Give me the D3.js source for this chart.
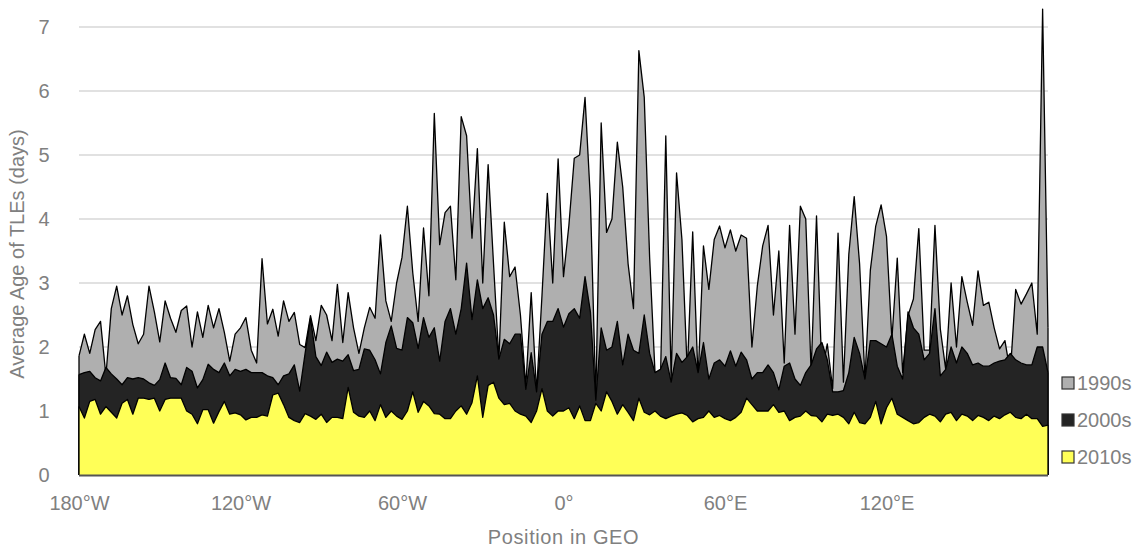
<!DOCTYPE html>
<html>
<head>
<meta charset="utf-8">
<script src="https://cdn.jsdelivr.net/npm/d3@7"></script>
<style>
  body { margin: 0; background: #fff; }
  svg { display: block; font-family: "Liberation Sans", Arial, sans-serif; }
</style>
</head>
<body>
<svg></svg>
<script>
// Chart size
const width = 1133
const height = 548
const margin = {left: 79, right: 85, top: 27, bottom: 73}

// Longitude of every sample, 2 degree steps
const lons = d3.range(-180, 181, 2)

// Average age of TLEs (days) per decade
const age1990s = [
  1.86, 2.2, 1.9, 2.27, 2.4, 1.55, 2.6, 2.95, 2.5, 2.8, 2.35, 2.05, 2.2, 2.95, 2.55, 2.08, 2.72, 2.45, 2.23, 2.57,
  2.64, 2.0, 2.55, 2.15, 2.65, 2.3, 2.6, 2.23, 1.78, 2.2, 2.3, 2.46, 1.95, 1.75, 3.38, 2.36, 2.59, 2.17, 2.72, 2.4,
  2.54, 2.04, 1.99, 2.49, 2.1, 2.65, 2.5, 2.1, 2.98, 2.07, 2.85, 2.3, 1.9, 2.3, 2.62, 2.45, 3.75, 2.72, 2.4, 3.0,
  3.4, 4.2, 3.16, 2.4, 3.86, 2.8, 5.65, 3.6, 4.1, 4.2, 3.05, 5.6, 5.3, 3.7, 5.1, 3.0, 4.85, 3.3, 1.8, 3.95,
  3.1, 3.25, 2.5, 1.39, 2.85, 1.3, 2.8, 4.4, 3.0, 4.94, 3.1, 3.9, 4.95, 5.0, 5.9, 4.3, 1.2, 5.5, 3.79, 4.0,
  5.2, 4.5, 3.3, 2.6, 6.63, 5.9, 3.4, 1.6, 1.45, 5.3, 1.5, 4.72, 3.68, 1.6, 3.8, 1.5, 3.58, 2.9, 3.68, 3.89,
  3.55, 3.83, 3.5, 3.75, 3.7, 2.0, 2.95, 3.58, 3.9, 2.5, 3.5, 1.75, 3.9, 2.2, 4.2, 4.0, 1.6, 4.05, 1.6, 2.05,
  1.35, 3.78, 1.45, 3.45, 4.35, 3.3, 1.5, 3.2, 3.89, 4.22, 3.73, 2.12, 3.39, 1.6, 2.49, 2.75, 3.85, 1.95, 1.95, 3.9,
  2.28, 1.65, 3.0, 2.0, 3.1, 2.7, 2.34, 3.19, 2.65, 2.7, 2.3, 1.97, 2.1, 1.6, 2.9, 2.67, 2.83, 3.0, 2.2, 7.28,
  2.3
]
const age2000s = [
  1.57, 1.6, 1.62, 1.52, 1.47, 1.68, 1.58, 1.5, 1.41, 1.52, 1.5, 1.52, 1.5, 1.44, 1.4, 1.49, 1.75, 1.52, 1.51, 1.41,
  1.68, 1.62, 1.36, 1.49, 1.73, 1.65, 1.6, 1.75, 1.55, 1.65, 1.62, 1.65, 1.6, 1.6, 1.6, 1.55, 1.52, 1.41, 1.55, 1.58,
  1.72, 1.31, 1.9, 2.45, 1.85, 1.71, 1.92, 1.76, 1.81, 1.78, 1.88, 1.63, 1.65, 1.97, 1.95, 1.8, 1.58, 2.07, 2.33, 1.98,
  1.95, 2.46, 2.38, 1.98, 2.46, 2.15, 2.3, 1.78, 2.4, 2.6, 2.2, 2.6, 3.31, 2.43, 3.05, 2.6, 2.77, 2.5, 1.81, 2.12,
  2.05, 2.2, 2.2, 1.34, 1.91, 1.3, 2.2, 2.4, 2.4, 2.6, 2.31, 2.52, 2.6, 2.45, 3.1, 2.55, 1.17, 2.3, 1.95, 2.0,
  2.4, 1.72, 2.2, 1.95, 1.9, 2.5, 1.9, 1.6, 1.65, 1.85, 1.45, 1.9, 1.76, 1.85, 2.0, 1.6, 2.07, 1.5, 1.75, 1.8,
  1.7, 1.94, 1.7, 1.92, 1.8, 1.5, 1.6, 1.6, 1.72, 1.6, 1.33, 1.7, 1.75, 1.5, 1.4, 1.6, 1.72, 1.97, 2.07, 1.8,
  1.3, 1.3, 1.32, 1.6, 2.15, 1.9, 1.5, 2.1, 2.1, 2.05, 2.0, 2.2, 1.7, 1.5, 2.55, 2.3, 2.2, 1.8, 1.9, 2.6,
  1.55, 1.65, 2.0, 1.75, 2.0, 1.9, 1.72, 1.75, 1.7, 1.7, 1.75, 1.78, 1.8, 1.9, 1.8, 1.75, 1.72, 1.72, 2.0, 2.0,
  1.6
]
const age2010s = [
  1.07, 0.89, 1.15, 1.18, 0.95, 1.07, 0.98, 0.89, 1.12, 1.18, 0.95, 1.2, 1.2, 1.18, 1.2, 1.0, 1.18, 1.2, 1.2, 1.2,
  1.0, 0.95, 0.8, 1.02, 1.02, 0.81, 0.99, 1.15, 0.95, 0.97, 0.94, 0.86, 0.9, 0.9, 0.94, 0.92, 1.25, 1.28, 1.1, 0.9,
  0.85, 0.82, 0.96, 0.92, 0.87, 0.95, 0.82, 0.9, 0.9, 0.88, 1.37, 0.98, 0.92, 0.9, 1.0, 0.85, 1.1, 0.9, 1.0, 0.92,
  0.87, 1.0, 1.3, 0.98, 1.15, 1.08, 0.96, 0.95, 0.88, 0.88, 1.0, 1.08, 0.95, 1.13, 1.55, 0.9, 1.4, 1.45, 1.2, 1.1,
  1.12, 1.0, 0.95, 0.92, 0.82, 1.0, 1.35, 1.0, 0.92, 1.0, 1.0, 1.05, 0.88, 1.08, 0.85, 0.85, 1.12, 1.0, 1.3, 1.15,
  0.95, 1.1, 0.98, 0.85, 1.2, 0.98, 0.94, 1.0, 0.92, 0.88, 0.92, 0.95, 0.97, 0.93, 0.83, 0.88, 0.9, 1.0, 0.9, 0.93,
  0.88, 0.85, 0.9, 0.98, 1.2, 1.1, 1.0, 1.0, 1.0, 1.1, 0.98, 1.0, 0.85, 0.9, 0.92, 1.0, 0.93, 0.92, 0.83, 0.95,
  0.93, 0.95, 0.9, 0.8, 0.98, 0.82, 0.8, 0.9, 1.15, 0.8, 1.05, 1.2, 0.95, 0.9, 0.85, 0.8, 0.82, 0.9, 0.95, 0.92,
  0.83, 0.95, 0.98, 0.85, 0.95, 0.92, 0.85, 0.93, 0.9, 0.85, 0.92, 0.88, 0.94, 0.98, 0.9, 0.88, 0.95, 0.88, 0.88, 0.76,
  0.78
]

const seriesNames = ['1990s', '2000s', '2010s']
const seriesColors = ['#afafaf', '#242424', '#ffff57']
const series = [age1990s, age2000s, age2010s]

const xTicks = [-180, -120, -60, 0, 60, 120]
const xTickLabels = ['180°W', '120°W', '60°W', '0°', '60°E', '120°E']
const yTicks = [0, 1, 2, 3, 4, 5, 6, 7]

const textColor = '#808080'
const fontSize = '20px'

const svg = d3.select('svg')
    .attr('width', width)
    .attr('height', height)

// Scales
const xScale = d3.scaleLinear()
    .domain([-180, 180])
    .range([margin.left, width - margin.right])

const yScale = d3.scaleLinear()
    .domain([0, 7])
    .range([height - margin.bottom, margin.top])

// Grid lines
svg.append('g')
    .selectAll('line')
    .data(yTicks.slice(1))
    .enter()
    .append('line')
    .attr('x1', xScale(-180))
    .attr('x2', xScale(180))
    .attr('y1', d => yScale(d))
    .attr('y2', d => yScale(d))
    .attr('stroke', '#c4c4c4')
    .attr('stroke-width', 1.2)

// Areas, oldest decade at the back
let area = d3.area()
    .x((d, i) => xScale(lons[i]))
    .y0(yScale(0))
    .y1(d => yScale(d))

let line = d3.line()
    .x((d, i) => xScale(lons[i]))
    .y(d => yScale(d))

series.forEach((vals, k) => {
    svg.append('path')
        .datum(vals)
        .attr('d', area)
        .attr('fill', seriesColors[k])
    svg.append('path')
        .datum(vals)
        .attr('d', line)
        .attr('fill', 'none')
        .attr('stroke', '#000')
        .attr('stroke-width', 1.3)
        .attr('stroke-linejoin', 'round')
    // side edges of the area
    svg.append('line')
        .attr('x1', xScale(-180)).attr('x2', xScale(-180))
        .attr('y1', yScale(0)).attr('y2', yScale(vals[0]))
        .attr('stroke', '#000').attr('stroke-width', 1.3)
    svg.append('line')
        .attr('x1', xScale(180)).attr('x2', xScale(180))
        .attr('y1', yScale(0)).attr('y2', yScale(vals[vals.length - 1]))
        .attr('stroke', '#000').attr('stroke-width', 1.3)
})

// Bottom axis line
svg.append('line')
    .attr('x1', xScale(-180))
    .attr('x2', xScale(180))
    .attr('y1', yScale(0) + 0.5)
    .attr('y2', yScale(0) + 0.5)
    .attr('stroke', '#555')
    .attr('stroke-width', 2)

// Axes
let xAxis = d3.axisBottom(xScale)
    .tickValues(xTicks)
    .tickSize(0)
    .tickPadding(21)
    .tickFormat((d, i) => xTickLabels[i])

svg.append('g')
    .attr('transform', 'translate(0,' + yScale(0) + ')')
    .call(xAxis)
    .call(g => g.select('.domain').remove())
    .selectAll('text')
    .attr('fill', textColor)
    .style('font-size', fontSize)

let yAxis = d3.axisLeft(yScale)
    .tickValues(yTicks)
    .tickSize(0)
    .tickPadding(30)
    .tickFormat(d3.format('d'))

svg.append('g')
    .attr('transform', 'translate(' + margin.left + ',0)')
    .call(yAxis)
    .call(g => g.select('.domain').remove())
    .selectAll('text')
    .attr('fill', textColor)
    .attr('text-anchor', 'middle')
    .attr('dx', '-5')
    .style('font-size', fontSize)

// Axis titles
svg.append('text')
    .attr('x', (xScale(-180) + xScale(180)) / 2)
    .attr('y', 544)
    .attr('text-anchor', 'middle')
    .attr('fill', textColor)
    .attr('letter-spacing', '0.6px')
    .style('font-size', fontSize)
    .text('Position in GEO')

svg.append('text')
    .attr('transform', 'translate(24,' + 254 + ') rotate(-90)')
    .attr('text-anchor', 'middle')
    .attr('fill', textColor)
    .style('font-size', fontSize)
    .text('Average Age of TLEs (days)')

// Legend
let legend = svg.append('g')
    .attr('transform', 'translate(1062, 383)')

seriesNames.forEach((name, i) => {
    let row = legend.append('g')
        .attr('transform', 'translate(0,' + (i * 37) + ')')
    row.append('rect')
        .attr('x', 0)
        .attr('y', -6)
        .attr('width', 12)
        .attr('height', 12)
        .attr('fill', seriesColors[i])
        .attr('stroke', '#333')
        .attr('stroke-width', 1.2)
    row.append('text')
        .attr('x', 15)
        .attr('y', 7)
        .attr('fill', textColor)
        .style('font-size', fontSize)
        .text(name)
})
</script>
</body>
</html>
